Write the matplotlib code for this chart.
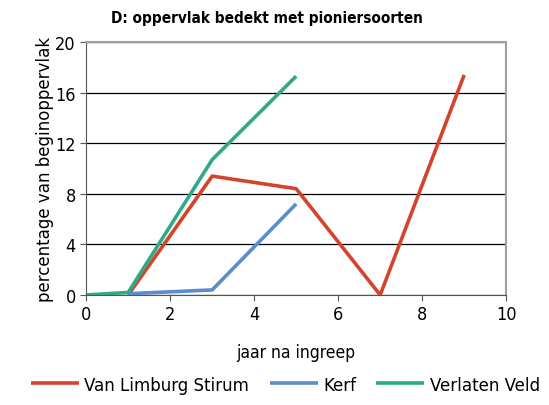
import matplotlib.pyplot as plt

plt.rcParams['font.family'] = ['DejaVu Sans']
plt.rcParams['font.stretch'] = 'condensed'

limburg_x = [1, 3, 5, 7, 9]
limburg_y = [0, 9.4, 8.4, 0, 17.4]
kerf_x = [1, 3, 5]
kerf_y = [0.1, 0.4, 7.2]
verlaten_x = [0, 1, 3, 5]
verlaten_y = [0, 0.2, 10.7, 17.3]

fig = plt.figure(figsize=(5.49, 4.06), dpi=100)
ax = fig.add_axes([0.157, 0.271, 0.765, 0.623])

ax.plot(limburg_x, limburg_y, color='#d4432b', lw=2.6, label='Van Limburg Stirum', solid_capstyle='butt')
ax.plot(kerf_x, kerf_y, color='#5b8ccf', lw=2.6, label='Kerf', solid_capstyle='butt')
ax.plot(verlaten_x, verlaten_y, color='#2faa88', lw=2.6, label='Verlaten Veld', solid_capstyle='butt')

ax.set_xlim(0, 10)
ax.set_ylim(0, 20)
ax.set_xticks(range(0, 11, 2))
ax.set_yticks(range(0, 21, 4))
ax.yaxis.grid(True, color='black', lw=0.9)
ax.set_axisbelow(True)
ax.tick_params(direction='out', length=4, labelsize=13, color='#555555')
for s in ['top', 'right']:
    ax.spines[s].set_color('#a0a0a0')
    ax.spines[s].set_linewidth(1.5)
for s in ['left', 'bottom']:
    ax.spines[s].set_color('#555555')

ax.set_xlabel('jaar na ingreep', fontsize=12.5, labelpad=14)
ax.set_ylabel('percentage van beginoppervlak', fontsize=13.3, labelpad=1)
fig.text(0.203, 0.955, 'D: oppervlak bedekt met pioniersoorten', fontsize=11,
         fontweight='bold', va='center')

fig.legend(loc='center', bbox_to_anchor=(0.52, 0.05), ncol=3, frameon=False,
           fontsize=13.3, handlelength=2.6, columnspacing=1.1, handletextpad=0.3)

fig.savefig('out.png', dpi=100)
